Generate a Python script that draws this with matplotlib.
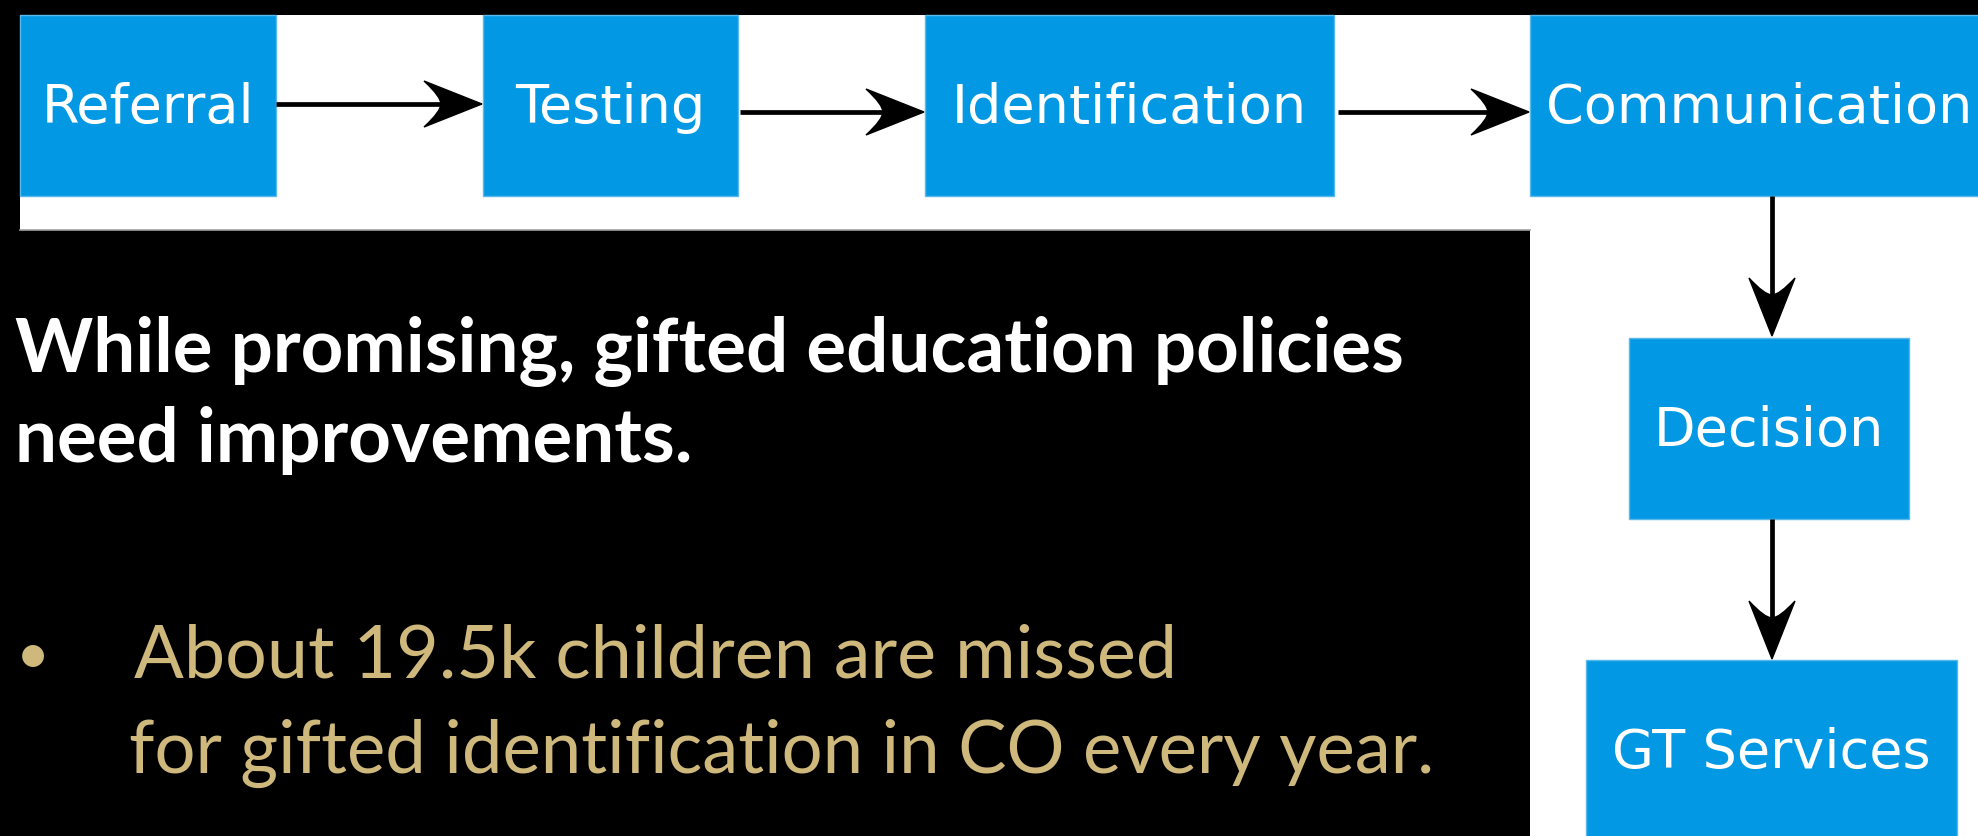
import numpy as np
import matplotlib
matplotlib.use('Agg')
import matplotlib.pyplot as plt
from matplotlib.patches import Rectangle, PathPatch
from matplotlib.path import Path

# steps of the gifted identification process
steps = ['Referral', 'Testing', 'Identification', 'Communication', 'Decision', 'GT Services']

headline = ['While promising, gifted education policies', 'need improvements.']
bullet = ['About 19.5k children are missed', 'for gifted identification in CO every year.']

BLUE = '#0398e3'
GOLD = '#cfb87c'

W, H = 1978, 836
fig = plt.figure(figsize=(W / 100, H / 100), dpi=100, facecolor='black')
ax = fig.add_axes([0, 0, 1, 1])
ax.set_xlim(0, W)
ax.set_ylim(H, 0)
ax.axis('off')

# white panel behind the flow chart
ax.add_patch(Rectangle((20, 15), W - 20, 215, color='white', lw=0))
ax.add_patch(Rectangle((1530, 15), W - 1530, H, color='white', lw=0))
ax.plot([20, 1530], [230, 230], color='#a0a0a0', lw=1.2)

# box geometry in pixels (x0, y0, x1, y1)
boxes = [(20, 15, 276, 196), (483, 15, 738, 196), (925, 15, 1334, 196),
         (1530, 15, 1988, 196), (1629, 338, 1909, 519), (1586, 660, 1957, 841)]

for name, (x0, y0, x1, y1) in zip(steps, boxes):
    ax.add_patch(Rectangle((x0, y0), x1 - x0, y1 - y0, facecolor=BLUE,
                           edgecolor='#5ab8ec', lw=1))
    ax.text((x0 + x1) / 2, (y0 + y1) / 2 + 2, name, color='white', fontsize=39,
            family='DejaVu Sans', ha='center', va='center')


def draw_arrow(p0, p1, L=58, w=46, notch=17, lw=3.4):
    # straight shaft plus a "stealth" head with curved back edges
    p0 = np.array(p0, float)
    p1 = np.array(p1, float)
    d = (p1 - p0) / np.linalg.norm(p1 - p0)
    n = np.array([-d[1], d[0]])
    base = p1 - d * L
    nb = base + d * notch
    ax.plot([p0[0], nb[0]], [p0[1], nb[1]], color='black', lw=lw,
            solid_capstyle='butt')
    verts = [p1, base + n * w / 2, base + d * notch + n * w * 0.16, nb,
             base + d * notch - n * w * 0.16, base - n * w / 2, p1, p1]
    codes = [Path.MOVETO, Path.LINETO, Path.CURVE3, Path.CURVE3,
             Path.CURVE3, Path.CURVE3, Path.LINETO, Path.CLOSEPOLY]
    ax.add_patch(PathPatch(Path(verts, codes), facecolor='black',
                           edgecolor='black', lw=1))


# arrows between the steps (start, tip)
arrows = [((276, 104), (482, 104)), ((740, 112), (924, 112)),
          ((1338, 112), (1529, 112)), ((1772, 196), (1772, 336)),
          ((1772, 519), (1772, 659))]
for a, b in arrows:
    draw_arrow(a, b)

renderer = fig.canvas.get_renderer()


def fit_text(x, y, s, width, **kw):
    t = ax.text(x, y, s, **kw)
    bb = t.get_window_extent(renderer=renderer)
    t.set_fontsize(t.get_fontsize() * width / bb.width)
    return t


t1 = fit_text(15, 372, headline[0], 1391, color='white', family='Lato',
              weight='bold', fontsize=50, va='baseline')
ax.text(15, 462, headline[1], color='white', family='Lato', weight='bold',
        fontsize=t1.get_fontsize(), va='baseline')

t2 = fit_text(134, 678, bullet[0], 1042, color=GOLD, family='Lato',
              fontsize=50, va='baseline')
ax.text(129, 773, bullet[1], color=GOLD, family='Lato',
        fontsize=t2.get_fontsize() * 0.985, va='baseline')
ax.text(16, 674, '\u2022', color=GOLD, family='Lato',
        fontsize=t2.get_fontsize() * 0.8, va='baseline')

fig.savefig('out.png', dpi=100, facecolor='black')
